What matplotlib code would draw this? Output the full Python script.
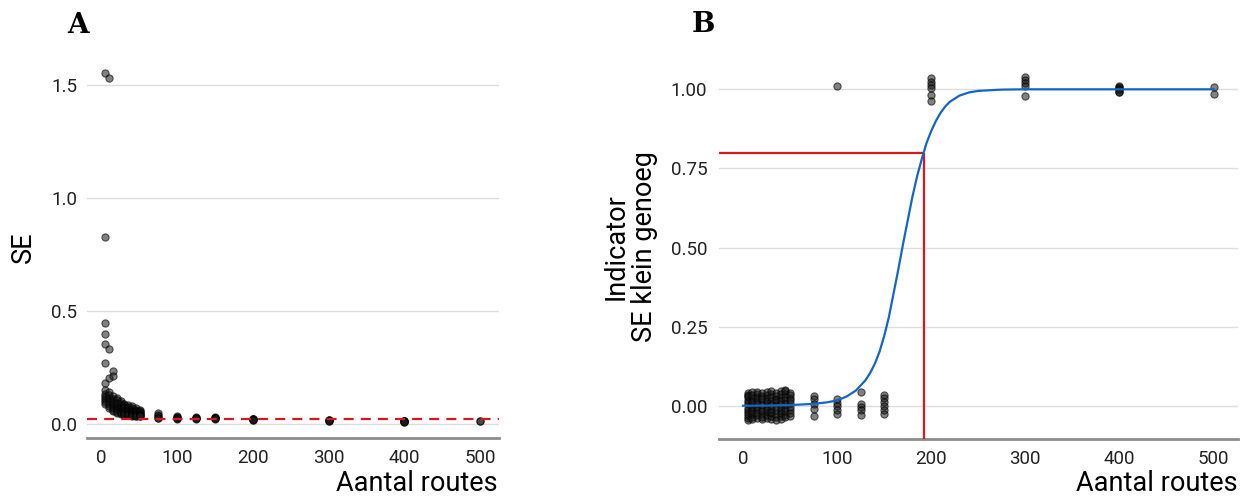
import matplotlib
matplotlib.use("Agg")
import matplotlib.pyplot as plt
import numpy as np

# ---------------- data ----------------
group_routes = [5, 10, 15, 20, 25, 30, 35, 40, 45, 50, 75, 100, 125, 150, 200, 300, 400, 500]

se_by_group = [
    [1.555, 0.827, 0.445, 0.397, 0.353, 0.268, 0.18, 0.15, 0.135, 0.125, 0.115, 0.105, 0.097, 0.09],
    [1.531, 0.33, 0.202, 0.14, 0.127, 0.117, 0.107, 0.097, 0.088, 0.078, 0.07],
    [0.234, 0.214, 0.125, 0.113, 0.103, 0.094, 0.085, 0.077, 0.069, 0.062, 0.057],
    [0.115, 0.105, 0.095, 0.087, 0.08, 0.073, 0.066, 0.06, 0.055, 0.05],
    [0.1, 0.092, 0.084, 0.076, 0.07, 0.064, 0.058, 0.053, 0.048, 0.044],
    [0.09, 0.083, 0.076, 0.069, 0.063, 0.058, 0.053, 0.049, 0.045, 0.041],
    [0.085, 0.077, 0.07, 0.064, 0.058, 0.053, 0.049, 0.045, 0.042, 0.039],
    [0.078, 0.07, 0.064, 0.058, 0.053, 0.049, 0.045, 0.042, 0.039, 0.037],
    [0.07, 0.064, 0.058, 0.053, 0.049, 0.045, 0.042, 0.039, 0.037, 0.035],
    [0.062, 0.057, 0.052, 0.048, 0.044, 0.041, 0.038, 0.036, 0.034],
    [0.047, 0.04, 0.034, 0.029, 0.026],
    [0.034, 0.031, 0.028, 0.026, 0.025, 0.021],
    [0.03, 0.028, 0.026, 0.025, 0.024],
    [0.03, 0.028, 0.027, 0.026, 0.025, 0.024],
    [0.023, 0.022, 0.021, 0.021, 0.02, 0.019],
    [0.017, 0.016, 0.016, 0.015, 0.015],
    [0.013, 0.013, 0.012, 0.012, 0.012, 0.011, 0.011],
    [0.012, 0.012],
]

# indicator "SE klein genoeg" as plotted (0/1 with vertical jitter)
ind_by_group = [
    [0.041, -0.032, 0.012, -0.044, 0.027, -0.008, 0.035, -0.021, 0.004, -0.038, 0.019, -0.015, 0.03, -0.027],
    [-0.036, 0.024, -0.011, 0.043, -0.025, 0.008, -0.042, 0.016, -0.003, 0.033, -0.018],
    [0.02, -0.04, 0.037, -0.013, 0.006, -0.029, 0.028, -0.005, 0.044, -0.022, 0.013],
    [-0.027, 0.039, -0.009, 0.017, -0.043, 0.03, -0.017, 0.003, 0.024, -0.035],
    [0.034, -0.019, 0.009, -0.038, 0.042, -0.004, 0.021, -0.03, 0.015, -0.012],
    [-0.041, 0.016, -0.024, 0.036, 0.002, -0.033, 0.027, -0.01, 0.045, -0.02],
    [0.022, -0.037, 0.04, -0.014, 0.011, -0.026, 0.032, -0.002, 0.018, -0.045],
    [-0.018, 0.045, -0.031, 0.007, 0.026, -0.041, 0.014, -0.006, 0.037, -0.024],
    [0.05, -0.028, 0.038, -0.008, 0.019, -0.036, 0.029, -0.016, 0.004, 0.047],
    [-0.032, 0.041, -0.012, 0.026, 0.009, -0.022, 0.035, -0.004, 0.017],
    [0.032, 0.021, 0.005, -0.01, -0.032],
    [1.01, 0.02, 0.01, 0.0, -0.012, -0.026],
    [0.042, 0.005, -0.005, -0.015, -0.028],
    [0.035, 0.025, 0.012, 0.0, -0.015, -0.027],
    [1.035, 1.024, 1.014, 1.003, 0.982, 0.963],
    [1.04, 1.03, 1.021, 1.011, 0.98],
    [1.012, 1.008, 1.004, 1.0, 0.997, 0.993, 0.99],
    [1.007, 0.986],
]

se_threshold = 0.024

# fitted logistic curve
curve_routes = [0, 25, 50, 75, 90, 100, 110, 120, 130, 135, 140, 145, 150, 155, 160, 165, 170,
                175, 180, 185, 190, 195, 200, 205, 210, 215, 220, 230, 240, 250, 275, 300, 400, 500]
curve_prob = [0.0, 0.0005, 0.002, 0.006, 0.011, 0.017, 0.029, 0.048, 0.08, 0.103, 0.132, 0.17,
              0.22, 0.28, 0.355, 0.43, 0.51, 0.585, 0.66, 0.725, 0.78, 0.83, 0.868, 0.9,
              0.926, 0.946, 0.961, 0.98, 0.99, 0.995, 0.999, 1.0, 1.0, 1.0]

target_prob = 0.8
routes_needed = 192.7

xticks = [0, 100, 200, 300, 400, 500]
yticks_a = [0.0, 0.5, 1.0, 1.5]
yticklabels_a = ["0.0", "0.5", "1.0", "1.5"]
yticks_b = [0.0, 0.25, 0.5, 0.75, 1.0]
yticklabels_b = ["0.00", "0.25", "0.50", "0.75", "1.00"]

# ---------------- styling ----------------
plt.rcParams['font.family'] = ['Roboto', 'DejaVu Sans']
W, H = 1249, 497
fig = plt.figure(figsize=(W / 100, H / 100), dpi=100)

grid_c = '#dddddd'
axis_c = '#8c8c8c'
tick_c = '#222222'
pt_face = (0.1, 0.1, 0.1, 0.55)
pt_edge = (0, 0, 0, 0.6)


def px_axes(l, r, t, b):
    return [l / W, 1 - b / H, (r - l) / W, (b - t) / H]


def style(ax, yticks, ylabels, ypad):
    for s in ['top', 'right', 'left']:
        ax.spines[s].set_visible(False)
    ax.spines['bottom'].set_color(axis_c)
    ax.spines['bottom'].set_linewidth(2.0)
    ax.set_xticks(xticks)
    ax.set_xticklabels([str(t) for t in xticks])
    ax.set_yticks(yticks)
    ax.set_yticklabels(ylabels)
    ax.tick_params(axis='both', length=0, labelsize=13.5, colors=tick_c)
    ax.tick_params(axis='y', pad=ypad)
    ax.tick_params(axis='x', pad=8)
    ax.yaxis.grid(True, color=grid_c, linewidth=1.0)
    ax.xaxis.grid(False)
    ax.set_axisbelow(True)


# ---------------- panel A ----------------
axA = fig.add_axes(px_axes(86.7, 499, 54, 438.3))
xa, ya = [], []
for g, vals in zip(group_routes, se_by_group):
    xa += [g] * len(vals)
    ya += vals
axA.scatter(xa, ya, s=27, facecolors=pt_face, edgecolors=pt_edge, linewidths=0.8, zorder=3)
axA.axhline(se_threshold, color='#d7191c', linewidth=1.6, dashes=(4.5, 3.2), zorder=4)
axA.set_xlim(-19.8, 525)
axA.set_ylim(-0.063, 1.637)
style(axA, yticks_a, yticklabels_a, 7)

# ---------------- panel B ----------------
axB = fig.add_axes(px_axes(719, 1238, 59.4, 438.8))
xb, yb = [], []
for g, vals in zip(group_routes, ind_by_group):
    xb += [g] * len(vals)
    yb += vals
axB.set_xlim(-25.5, 526)
axB.set_ylim(-0.1045, 1.0945)
axB.scatter(xb, yb, s=27, facecolors=pt_face, edgecolors=pt_edge, linewidths=0.8, zorder=3)
axB.plot([-25.5, routes_needed], [target_prob, target_prob], color='#d7191c', linewidth=1.6, zorder=4,
         solid_capstyle='butt')
axB.plot([routes_needed, routes_needed], [-0.1045, target_prob], color='#d7191c', linewidth=1.6, zorder=4,
         solid_capstyle='butt')
axB.plot(curve_routes, curve_prob, color='#1565c8', linewidth=1.6, zorder=5, solid_joinstyle='round')
style(axB, yticks_b, yticklabels_b, 8.5)

# ---------------- labels ----------------
title_fs = 19.5
fig.text(498 / W, 1 - 491 / H, "Aantal routes", ha='right', va='baseline', fontsize=title_fs, color='black')
fig.text(1238 / W, 1 - 491 / H, "Aantal routes", ha='right', va='baseline', fontsize=title_fs, color='black')
fig.text(23 / W, 1 - 247 / H, "SE", rotation=90, ha='center', va='center', fontsize=title_fs, color='black')
fig.text(630 / W, 1 - 247 / H, "Indicator\nSE klein genoeg", rotation=90, ha='center', va='center',
         fontsize=title_fs, color='black', multialignment='center', linespacing=1.05)

fig.text(77.8 / W, 1 - 25.5 / H, "A", ha='center', va='center', fontsize=20, fontweight='heavy',
         family=['DejaVu Serif'])
fig.text(703 / W, 1 - 24.5 / H, "B", ha='center', va='center', fontsize=20, fontweight='heavy',
         family=['DejaVu Serif'])

fig.savefig("out.png", dpi=100)
